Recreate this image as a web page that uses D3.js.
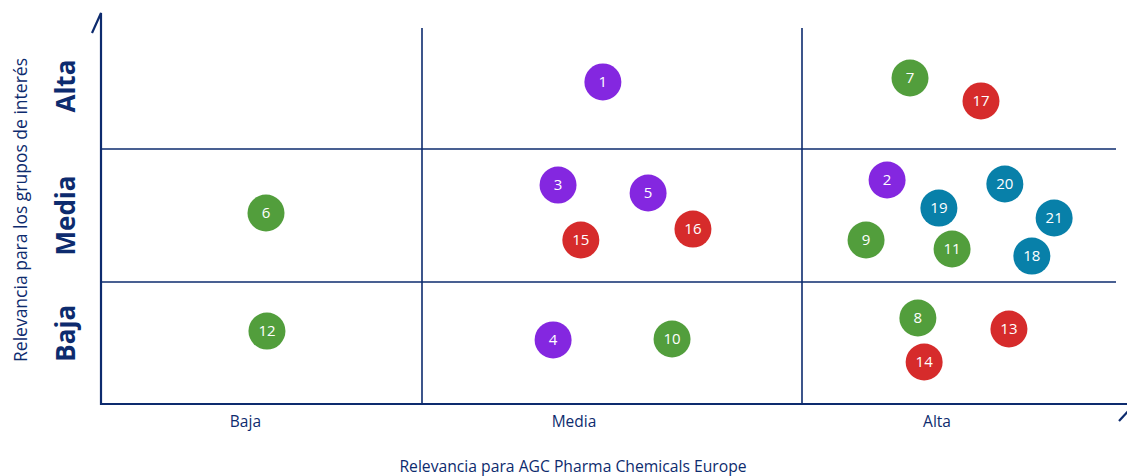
<!DOCTYPE html>
<html>
<head>
<meta charset="utf-8">
<script src="https://cdn.jsdelivr.net/npm/d3@7"></script>
<style>
    body { margin: 0; background: #fff; }
    text { font-family: "Open Sans", sans-serif; }
</style>
</head>
<body>
<div id="wrapper"></div>
<script>
// niveles de relevancia (0..3 en cada eje, una unidad por celda)
const levels = ["Baja", "Media", "Alta"];
const xLabelPos = [0.45, 1.40, 2.43];
const yLabelPos = [0.58, 1.50, 2.52];

// temas materiales
const ids = [1, 2, 3, 4, 5, 6, 7, 8, 9, 10, 11, 12, 13, 14, 15, 16, 17, 18, 19, 20, 21];
const xValues = [1.476, 2.271, 1.358, 1.345, 1.595, 0.514, 2.344, 2.369, 2.204, 1.658, 2.478, 0.517, 2.659, 2.389, 1.418, 1.713, 2.570, 2.732, 2.436, 2.646, 2.803];
const yValues = [2.554, 1.767, 1.729, 0.525, 1.669, 1.519, 2.587, 0.705, 1.316, 0.533, 1.248, 0.598, 0.615, 0.344, 1.316, 1.398, 2.397, 1.195, 1.556, 1.737, 1.481];
const groups = ["p", "p", "p", "p", "p", "g", "g", "g", "g", "g", "g", "g", "r", "r", "r", "r", "r", "b", "b", "b", "b"];

const colors = { p: "#8427e0", g: "#529e3c", r: "#d62b2b", b: "#0880a9" };
const navy = "#0d2b6e";

function buildChart() {
    const dimension = { width: 1127, height: 476 };

    const svg = d3.select("#wrapper").append("svg")
        .attr("width", dimension.width)
        .attr("height", dimension.height);

    // celdas de distinto ancho, escala por tramos
    const xScaler = d3.scaleLinear().domain([0, 1, 2, 3]).range([101, 422, 802, 1116]);
    const yScaler = d3.scaleLinear().domain([0, 1, 2, 3]).range([404, 282, 149, 28]);

    // lineas de la cuadricula
    svg.selectAll(".vline").data([1, 2]).join("line")
        .attr("x1", d => xScaler(d)).attr("x2", d => xScaler(d))
        .attr("y1", yScaler(0)).attr("y2", yScaler(3))
        .attr("stroke", navy).attr("stroke-width", 1.6);
    svg.selectAll(".hline").data([1, 2]).join("line")
        .attr("x1", xScaler(0)).attr("x2", xScaler(3))
        .attr("y1", d => yScaler(d)).attr("y2", d => yScaler(d))
        .attr("stroke", navy).attr("stroke-width", 1.6);

    // ejes con media punta de flecha
    svg.append("path")
        .attr("d", `M92,33 L${xScaler(0)},13 L${xScaler(0)},${yScaler(0)} L1130,${yScaler(0)}`)
        .attr("fill", "none").attr("stroke", navy).attr("stroke-width", 2.2);
    svg.append("path")
        .attr("d", `M1119,421 L1131,408`)
        .attr("fill", "none").attr("stroke", navy).attr("stroke-width", 2.2);

    // etiquetas eje x
    svg.selectAll(".xlab").data(levels).join("text")
        .attr("x", (d, i) => xScaler(xLabelPos[i]))
        .attr("y", 427)
        .attr("text-anchor", "middle")
        .attr("fill", navy)
        .style("font-size", "15.5px")
        .text(d => d);

    svg.append("text")
        .attr("x", 573).attr("y", 472)
        .attr("text-anchor", "middle")
        .attr("fill", navy)
        .style("font-size", "15.7px")
        .text("Relevancia para AGC Pharma Chemicals Europe");

    // etiquetas eje y
    svg.selectAll(".ylab").data(levels).join("text")
        .attr("transform", (d, i) => `translate(75,${yScaler(yLabelPos[i])}) rotate(-90)`)
        .attr("text-anchor", "middle")
        .attr("fill", navy)
        .style("font-size", "26px")
        .style("font-weight", "bold")
        .text(d => d);

    svg.append("text")
        .attr("transform", "translate(27,210) rotate(-90)")
        .attr("text-anchor", "middle")
        .attr("fill", navy)
        .style("font-size", "17.5px")
        .text("Relevancia para los grupos de interés");

    // puntos
    const pts = svg.selectAll(".pt").data(ids).join("g")
        .attr("transform", (d, i) => `translate(${xScaler(xValues[i])},${yScaler(yValues[i])})`);
    pts.append("circle")
        .attr("r", 18.5)
        .attr("fill", (d, i) => colors[groups[i]]);
    pts.append("text")
        .attr("text-anchor", "middle")
        .attr("dy", "0.35em")
        .attr("fill", "#fff")
        .style("font-size", "15px")
        .text(d => d);
}

buildChart();
</script>
</body>
</html>
